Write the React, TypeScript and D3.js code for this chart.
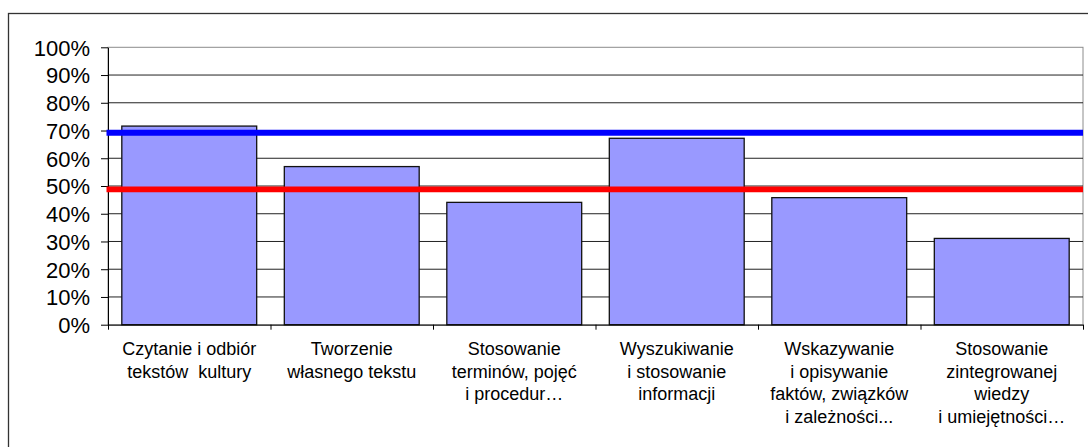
import React, { useEffect, useRef } from 'react';
import * as d3 from 'd3';

const categories = [
  ['Czytanie i odbiór', 'tekstów  kultury'],
  ['Tworzenie', 'własnego tekstu'],
  ['Stosowanie', 'terminów, pojęć', 'i procedur…'],
  ['Wyszukiwanie', 'i stosowanie', 'informacji'],
  ['Wskazywanie', 'i opisywanie', 'faktów, związków', 'i zależności...'],
  ['Stosowanie', 'zintegrowanej', 'wiedzy', 'i umiejętności…'],
];
const values = [0.716, 0.57, 0.441, 0.672, 0.458, 0.311];
const blueLevel = 0.692;
const redLevel = 0.488;
const yTicks = [0, 0.1, 0.2, 0.3, 0.4, 0.5, 0.6, 0.7, 0.8, 0.9, 1];

const App = () => {
  const chartRef = useRef<SVGSVGElement | null>(null);

  useEffect(() => {
    const svg = d3.select(chartRef.current);
    svg.selectAll('*').remove();

    const W = 1088;
    const H = 447;
    const margin = { top: 47.3, right: 5, bottom: 122.3, left: 108 };
    const width = W - margin.left - margin.right;
    const height = H - margin.top - margin.bottom;
    const font = '"Liberation Sans", Arial, sans-serif';

    // outer chart frame (runs off the right/bottom of the picture)
    svg.append('rect')
      .attr('x', 8.5).attr('y', 13.5)
      .attr('width', W + 20).attr('height', H + 20)
      .attr('fill', 'white')
      .attr('stroke', '#333').attr('stroke-width', 1.3);

    const g = svg.append('g')
      .attr('transform', `translate(${margin.left},${margin.top})`);

    const x = d3.scaleBand<number>()
      .domain(values.map((_, i) => i))
      .range([0, width])
      .padding(0);

    const y = d3.scaleLinear().domain([0, 1]).range([height, 0]);

    // plot border (top/right)
    g.append('rect')
      .attr('x', 0).attr('y', 0)
      .attr('width', width).attr('height', height)
      .attr('fill', 'white')
      .attr('stroke', '#8c8c8c').attr('stroke-width', 1);

    // gridlines
    g.selectAll('.grid')
      .data(yTicks.slice(1, -1))
      .join('line')
      .attr('x1', 0).attr('x2', width)
      .attr('y1', d => y(d)).attr('y2', d => y(d))
      .attr('stroke', '#222').attr('stroke-width', 1);

    // bars
    const barW = x.bandwidth() * 0.83;
    g.selectAll('.bar')
      .data(values)
      .join('rect')
      .attr('x', (_, i) => x(i)! + (x.bandwidth() - barW) / 2)
      .attr('y', d => y(d))
      .attr('width', barW)
      .attr('height', d => height - y(d))
      .attr('fill', '#9999ff')
      .attr('stroke', '#111').attr('stroke-width', 1.3);

    // y axis
    const yAxis = g.append('g')
      .call(d3.axisLeft(y).tickValues(yTicks).tickFormat(d3.format('.0%')).tickSize(7).tickSizeOuter(0));
    yAxis.select('.domain').attr('stroke', '#000');
    yAxis.selectAll('.tick line').attr('stroke', '#000');
    yAxis.selectAll('.tick text')
      .attr('x', -18)
      .attr('fill', '#000')
      .attr('font-family', font)
      .attr('font-size', 22)
      .attr('dy', '0.36em');

    // x axis
    const xAxis = g.append('g')
      .attr('transform', `translate(0,${height})`)
      .call(d3.axisBottom(d3.scaleLinear().domain([0, values.length]).range([0, width]))
        .ticks(values.length).tickFormat(() => '').tickSize(5).tickSizeOuter(0));
    xAxis.select('.domain').attr('stroke', '#000');
    xAxis.selectAll('.tick line').attr('stroke', '#000');

    const labels = g.append('g')
      .attr('font-family', font)
      .attr('font-size', 18)
      .attr('fill', '#000')
      .attr('text-anchor', 'middle');
    categories.forEach((lines, i) => {
      const t = labels.append('text')
        .attr('x', x(i)! + x.bandwidth() / 2)
        .attr('y', height + 30.5);
      lines.forEach((line, k) => {
        t.append('tspan')
          .attr('x', x(i)! + x.bandwidth() / 2)
          .attr('dy', k === 0 ? 0 : 22.5)
          .attr('xml:space', 'preserve')
          .text(line);
      });
    });

    // reference lines
    [[blueLevel, '#0000ff'], [redLevel, '#ff0000']].forEach(([v, c]) => {
      g.append('line')
        .attr('x1', -1.5).attr('x2', width)
        .attr('y1', y(v as number)).attr('y2', y(v as number))
        .attr('stroke', c as string).attr('stroke-width', 5.8);
    });
  }, []);

  return (
    <div style={{ position: 'fixed', left: 0, top: 0 }}>
      <svg ref={chartRef} width="1088" height="447" style={{ display: 'block' }}></svg>
    </div>
  );
};

export default App;
